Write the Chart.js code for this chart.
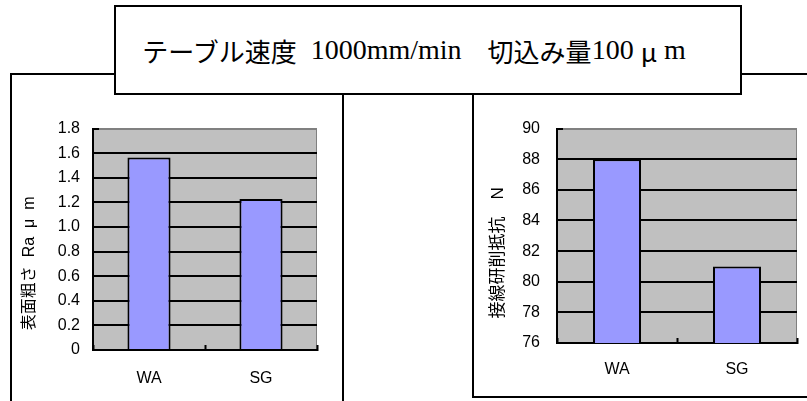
<!DOCTYPE html>
<html>
<head>
<meta charset="utf-8">
<script src="https://cdn.jsdelivr.net/npm/chart.js@4/dist/chart.umd.min.js"></script>
<style>
  html, body { margin: 0; padding: 0; background: #fff; }
  body { width: 807px; height: 401px; position: relative; overflow: hidden; }
  .frame { position: absolute; border: 2px solid #000; box-sizing: border-box; background: #fff; }
  #frameLeft { left: 10px; top: 73px; width: 334px; height: 360px; }
  #frameRight { left: 472px; top: 73px; width: 360px; height: 325px; }
  #titleBox {
    position: absolute; left: 114px; top: 5px; width: 628px; height: 90px;
    border: 2px solid #000; box-sizing: border-box; background: #fff; z-index: 2;
    display: flex; align-items: center; justify-content: center; padding-right: 28px;
    font-family: "Liberation Serif", "Noto Sans CJK JP", serif; font-size: 28px; white-space: pre;
  }
  .jp { font-family: "Noto Sans CJK JP", sans-serif; font-size: 26px; }
  .gap { margin-right: 14px; }
  canvas { position: absolute; }
  #leftChart { left: 12px; top: 100px; }
  #rightChart { left: 474px; top: 96px; }
</style>
</head>
<body>
<div class="frame" id="frameLeft"></div>
<div class="frame" id="frameRight"></div>
<div id="titleBox"><span class="jp gap">テーブル速度</span>1000mm/min<span class="jp">　切込み量</span>100 <span class="jp">μ</span> m</div>
<canvas id="leftChart" width="330" height="301"></canvas>
<canvas id="rightChart" width="333" height="300"></canvas>
<script>
const categories = ["WA", "SG"];
const roughness = [1.565, 1.227];      // 表面粗さ Ra μm
const grindingForce = [88, 81];        // 接線研削抵抗 N
const roughnessRange = [0, 1.8, 0.2];  // min, max, step
const forceRange = [76, 90, 2];

Chart.defaults.font.family = "'Liberation Sans', 'Noto Sans CJK JP'";
Chart.defaults.font.size = 16;
Chart.defaults.color = "#000";

// gray plot area like the old spreadsheet charts
const plotBackground = {
  id: "plotBackground",
  beforeDraw(chart) {
    const { ctx, chartArea: a } = chart;
    ctx.save();
    ctx.fillStyle = "#c0c0c0";
    ctx.fillRect(a.left, a.top, a.right - a.left, a.bottom - a.top);
    ctx.strokeStyle = "#808080";
    ctx.lineWidth = 1;
    ctx.beginPath();
    ctx.moveTo(a.right - 0.5, a.top);
    ctx.lineTo(a.right - 0.5, a.bottom);
    ctx.stroke();
    ctx.restore();
  },
};

function makeChart(id, values, range, title, opt) {
  const ctx = document.getElementById(id).getContext("2d");
  return new Chart(ctx, {
    type: "bar",
    data: {
      labels: categories,
      datasets: [{
        data: values,
        backgroundColor: "#9999ff",
        borderColor: "#000",
        borderWidth: 2,
        barPercentage: opt.bar,
        categoryPercentage: 1,
      }],
    },
    plugins: [plotBackground],
    options: {
      responsive: false,
      animation: false,
      layout: { padding: opt.padding },
      plugins: { legend: { display: false }, tooltip: { enabled: false } },
      scales: {
        x: {
          afterFit: (s) => { s.height = 40; },
          border: { color: "#000", width: 2 },
          grid: { drawOnChartArea: false, drawTicks: true, tickLength: -5, tickColor: "#000", tickWidth: 2 },
          ticks: { padding: opt.xPad },
        },
        y: {
          min: range[0],
          max: range[1],
          afterFit: (s) => { s.width = opt.yWidth; },
          border: { color: "#000", width: 2 },
          grid: {
            color: (c) => (c.index === c.scale.ticks.length - 1 ? "#808080" : "#000"),
            lineWidth: 2,
            drawTicks: true,
            tickLength: -6,
            tickColor: "#000",
            tickWidth: 2,
          },
          ticks: { stepSize: range[2], padding: opt.yPad },
          title: {
            display: true,
            text: title,
            font: { size: opt.titleSize },
            padding: { top: opt.titlePad, bottom: 0 },
          },
        },
      },
    },
  });
}

makeChart("leftChart", roughness, roughnessRange, "表面粗さ  Ra  μ  m\u3000\u3000\u3000", {
  bar: 0.385, padding: { left: 0, right: 25, top: 25, bottom: 11 },
  yWidth: 81, yPad: 19, xPad: 24, titleSize: 16, titlePad: 8,
});
makeChart("rightChart", grindingForce, forceRange, "接線研削抵抗\u3000N\u3000\u3000", {
  bar: 0.4, padding: { left: 0, right: 10, top: 16, bottom: 13 },
  yWidth: 83, yPad: 23, xPad: 22, titleSize: 17, titlePad: 14,
});
</script>
</body>
</html>
